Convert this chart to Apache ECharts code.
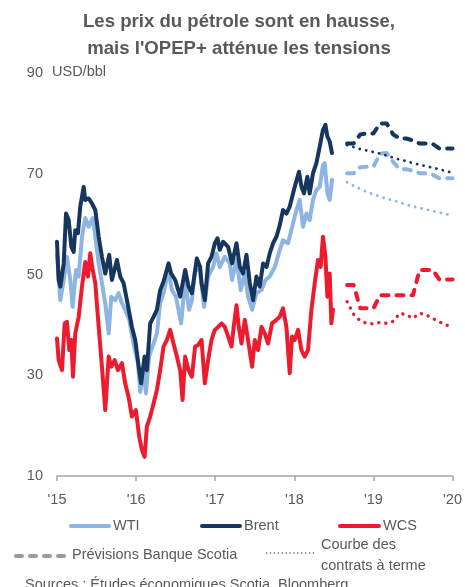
<!DOCTYPE html>
<html>
<head>
<meta charset="utf-8">
<script src="https://cdn.jsdelivr.net/npm/echarts@6/dist/echarts.min.js"></script>
<style>
html,body{margin:0;padding:0;background:#fff;}
#chart{width:465px;height:587px;}
</style>
</head>
<body>
<div id="chart"></div>
<script>
// ---------- DATA ----------
const xTickYears = [2015, 2016, 2017, 2018, 2019, 2020];
const yTicks = [10, 30, 50, 70, 90];

// Historical (fractional year, USD/bbl)
const brentDates = [2015.000,2015.021,2015.042,2015.085,2015.114,2015.148,2015.181,2015.211,2015.231,2015.265,2015.294,2015.337,2015.357,2015.400,2015.442,2015.484,2015.527,2015.568,2015.610,2015.660,2015.694,2015.758,2015.799,2015.842,2015.884,2015.947,2015.989,2016.039,2016.064,2016.107,2016.136,2016.178,2016.221,2016.263,2016.304,2016.347,2016.410,2016.443,2016.494,2016.557,2016.620,2016.663,2016.705,2016.768,2016.809,2016.827,2016.869,2016.910,2016.953,2016.995,2017.029,2017.058,2017.100,2017.163,2017.213,2017.269,2017.311,2017.352,2017.395,2017.437,2017.479,2017.521,2017.563,2017.605,2017.648,2017.689,2017.731,2017.774,2017.816,2017.857,2017.900,2017.942,2018.005,2018.059,2018.090,2018.122,2018.165,2018.194,2018.236,2018.279,2018.321,2018.362,2018.393,2018.418,2018.447,2018.476];
const brentValues = [56.5,48.9,47.6,52.2,62.1,60.8,55.5,54.5,58.8,58.2,63.5,67.4,64.8,65.1,64.1,62.8,57.5,53.5,50.2,53.9,48.9,52.9,49.6,48.3,44.9,39.6,37.0,31.0,28.4,33.7,31.0,40.3,41.6,43.0,46.9,48.6,52.2,50.2,48.9,45.6,50.9,47.6,46.3,53.2,51.5,48.3,44.9,52.2,53.5,56.2,57.2,54.9,56.5,55.5,52.2,56.2,51.5,50.2,53.9,48.3,44.9,49.6,47.6,52.2,51.5,54.2,56.2,57.5,59.8,62.8,62.1,63.5,67.4,70.4,67.4,66.1,69.4,66.1,70.1,72.1,75.4,78.7,79.7,77.4,76.4,74.1];

const wtiDates = [2015.000,2015.042,2015.085,2015.126,2015.168,2015.198,2015.240,2015.274,2015.316,2015.357,2015.400,2015.451,2015.484,2015.527,2015.568,2015.610,2015.653,2015.686,2015.736,2015.779,2015.821,2015.862,2015.913,2015.968,2016.023,2016.052,2016.095,2016.124,2016.165,2016.221,2016.263,2016.304,2016.347,2016.410,2016.452,2016.503,2016.569,2016.620,2016.670,2016.705,2016.746,2016.806,2016.860,2016.910,2016.973,2017.016,2017.058,2017.121,2017.184,2017.213,2017.269,2017.323,2017.374,2017.415,2017.466,2017.521,2017.585,2017.635,2017.689,2017.753,2017.816,2017.857,2017.920,2017.984,2018.027,2018.068,2018.110,2018.153,2018.194,2018.236,2018.279,2018.321,2018.362,2018.384,2018.418,2018.447,2018.476];
const wtiValues = [53.9,44.9,48.9,53.5,48.9,43.6,50.9,49.6,57.5,61.2,59.5,61.2,57.5,52.2,48.3,44.3,38.3,45.6,44.9,46.3,44.3,43.0,41.0,36.3,32.4,26.7,31.0,26.4,33.7,36.3,38.3,44.3,46.3,50.9,46.9,45.6,40.3,48.9,43.0,44.9,50.9,50.9,43.6,49.6,51.5,54.2,51.5,53.5,52.2,48.9,52.9,46.9,50.2,45.6,43.0,46.3,46.9,48.9,49.6,51.5,54.9,56.8,56.2,60.2,62.8,64.8,59.5,62.1,60.8,64.8,66.8,67.4,71.7,72.1,66.1,64.8,68.8];

const wcsDates = [2015.000,2015.021,2015.063,2015.097,2015.126,2015.155,2015.181,2015.202,2015.231,2015.274,2015.316,2015.357,2015.391,2015.420,2015.451,2015.484,2015.527,2015.568,2015.610,2015.653,2015.686,2015.729,2015.770,2015.821,2015.862,2015.905,2015.947,2015.997,2016.039,2016.073,2016.107,2016.136,2016.178,2016.221,2016.263,2016.304,2016.347,2016.389,2016.431,2016.473,2016.515,2016.557,2016.587,2016.620,2016.663,2016.705,2016.746,2016.784,2016.827,2016.869,2016.910,2016.953,2016.995,2017.037,2017.080,2017.121,2017.163,2017.206,2017.239,2017.269,2017.298,2017.332,2017.374,2017.415,2017.466,2017.500,2017.542,2017.585,2017.626,2017.668,2017.718,2017.774,2017.816,2017.857,2017.900,2017.942,2017.971,2018.005,2018.047,2018.090,2018.131,2018.173,2018.216,2018.258,2018.299,2018.333,2018.362,2018.393,2018.418,2018.447,2018.468,2018.489];
const wcsValues = [37.3,33.0,31.0,40.3,40.6,35.0,37.0,29.7,38.3,41.6,47.6,52.5,49.6,54.2,50.9,48.3,39.6,31.7,23.1,33.7,31.7,33.0,31.0,32.4,28.4,25.7,21.8,23.1,17.8,15.2,13.8,19.8,21.8,24.4,27.1,31.0,35.7,37.0,39.0,36.3,33.7,31.0,25.1,33.7,31.0,29.7,35.7,36.0,37.0,28.4,33.0,37.0,39.0,39.6,40.3,39.6,37.7,35.7,40.3,43.9,39.6,36.3,41.0,37.0,31.7,37.0,35.0,39.6,38.3,36.3,40.3,41.0,41.6,43.3,39.6,30.4,37.7,37.0,39.0,35.0,33.7,35.0,43.0,48.3,52.9,51.5,57.5,53.5,45.6,50.2,40.3,43.0];

// Forecasts (monthly)
const forecastMonths = ['2018-09','2018-10','2018-11','2018-12','2019-01','2019-02','2019-03','2019-04','2019-05','2019-06','2019-07','2019-08','2019-09','2019-10','2019-11','2019-12','2020-01'];
const brentScotia   = [76.0,76.0,77.8,78.0,78.0,80.0,80.0,77.8,77.0,77.0,76.6,76.0,76.0,75.9,75.0,75.0,75.0];
const wtiScotia     = [70.1,70.1,71.3,71.4,71.4,74.0,74.1,72.3,70.9,70.9,70.6,70.1,70.1,69.8,69.1,69.1,69.1];
const wcsScotia     = [47.9,47.9,43.3,43.3,43.3,45.9,45.9,45.9,45.9,45.9,45.9,50.9,50.9,50.9,49.0,49.0,49.0];
const brentFutures  = [75.7,75.3,74.9,74.6,74.3,74.0,73.6,73.2,72.8,72.5,72.1,71.8,71.5,71.2,70.9,70.5,70.2];
const wtiFutures    = [68.3,67.6,67.0,66.4,65.9,65.5,65.0,64.7,64.3,63.9,63.5,63.2,62.9,62.6,62.3,62.0,61.7];
const wcsFutures    = [44.6,42.1,40.8,40.3,40.2,40.5,40.3,40.7,42.3,42.0,41.3,42.3,42.0,41.3,40.6,40.0,39.5];

// ---------- BUILD ----------
const C_WTI = '#8DB4E2', C_BRENT = '#17365D', C_WCS = '#EC1C2E';
const TXT = '#595959';
const FONT = "'Liberation Sans', Arial, sans-serif";

function zip(xs, ys){ return xs.map((x,i)=>[x, ys[i]]); }
function monthToYear(s){ const [y,m] = s.split('-').map(Number); return y + (m-1)/12; }
const fX = forecastMonths.map(monthToYear);

function hist(name, xs, ys, color){
  return {name, type:'line', data: zip(xs, ys), showSymbol:false, symbol:'none',
    lineStyle:{color, width:4, join:'round', cap:'round'}, silent:true, z:3};
}
function fc(name, ys, color, type, width){
  return {name, type:'line', data: zip(fX, ys), showSymbol:false, symbol:'none',
    lineStyle:{color, width, type, cap:'round', join:'round'}, silent:true, z:2};
}

const chart = echarts.init(document.getElementById('chart'), null, {renderer:'canvas'});
const dashT = [7, 8];
const dotT = [0.1, 6.5];

chart.setOption({
  animation:false,
  backgroundColor:'#fff',
  textStyle:{fontFamily:FONT},
  grid:{left:57, right:12, top:73, bottom:111, containLabel:false},
  xAxis:{type:'value', min:2015, max:2020, interval:1,
    axisLine:{show:true, lineStyle:{color:'#A6A6A6', width:1.5}},
    axisTick:{show:true, length:5, lineStyle:{color:'#A6A6A6', width:1.5}},
    splitLine:{show:false},
    axisLabel:{color:TXT, fontSize:14.5, fontFamily:FONT, margin:16,
      formatter:v => xTickYears.includes(v) ? "'" + String(v).slice(2) : ''}},
  yAxis:{type:'value', min:yTicks[0], max:yTicks[yTicks.length-1], interval:20,
    axisLine:{show:false}, axisTick:{show:false}, splitLine:{show:false},
    axisLabel:{color:TXT, fontSize:14.5, fontFamily:FONT, margin:14}},
  series:[
    hist('WTI', wtiDates, wtiValues, C_WTI),
    hist('Brent', brentDates, brentValues, C_BRENT),
    hist('WCS', wcsDates, wcsValues, C_WCS),
    fc('WTI prév.', wtiScotia, C_WTI, dashT, 4),
    fc('Brent prév.', brentScotia, C_BRENT, dashT, 4),
    fc('WCS prév.', wcsScotia, C_WCS, dashT, 4),
    fc('WTI terme', wtiFutures, C_WTI, dotT, 2.8),
    fc('Brent terme', brentFutures, C_BRENT, dotT, 2.8),
    fc('WCS terme', wcsFutures, C_WCS, [0.1, 7], 3.4)
  ],
  graphic:[
    {type:'text', x:239, y:8, style:{text:"Les prix du pétrole sont en hausse,\nmais l'OPEP+ atténue les tensions",
      font:"bold 18.6px "+FONT, fill:TXT, align:'center', lineHeight:27}},
    {type:'text', left:52, top:64, style:{text:'USD/bbl', font:"14.5px "+FONT, fill:TXT}},
    // legend row 1
    {type:'line', shape:{x1:71,y1:526,x2:109,y2:526}, style:{stroke:C_WTI, lineWidth:4, lineCap:'round'}},
    {type:'text', left:113, top:518, style:{text:'WTI', font:"14.5px "+FONT, fill:TXT}},
    {type:'line', shape:{x1:202,y1:526,x2:240,y2:526}, style:{stroke:C_BRENT, lineWidth:4, lineCap:'round'}},
    {type:'text', left:244, top:518, style:{text:'Brent', font:"14.5px "+FONT, fill:TXT}},
    {type:'line', shape:{x1:340,y1:526,x2:379,y2:526}, style:{stroke:C_WCS, lineWidth:4, lineCap:'round'}},
    {type:'text', left:383, top:518, style:{text:'WCS', font:"14.5px "+FONT, fill:TXT}},
    // legend row 2
    {type:'line', shape:{x1:16,y1:556,x2:67,y2:556}, style:{stroke:'#9B9B9B', lineWidth:4, lineCap:'round', lineDash:[6,8]}},
    {type:'text', left:72, top:547, style:{text:'Prévisions Banque Scotia', font:"14.5px "+FONT, fill:TXT}},
    {type:'line', shape:{x1:266,y1:553,x2:316,y2:553}, style:{stroke:'#6E6E6E', lineWidth:1.3, lineDash:[1.3,2.6]}},
    {type:'text', left:321, top:534, style:{text:'Courbe des\ncontrats à terme', font:"14.5px "+FONT, fill:TXT, lineHeight:21.5}},
    {type:'text', left:25, top:577, style:{text:'Sources : Études économiques Scotia, Bloomberg.', font:"14.5px "+FONT, fill:TXT}}
  ]
});
</script>
</body>
</html>
